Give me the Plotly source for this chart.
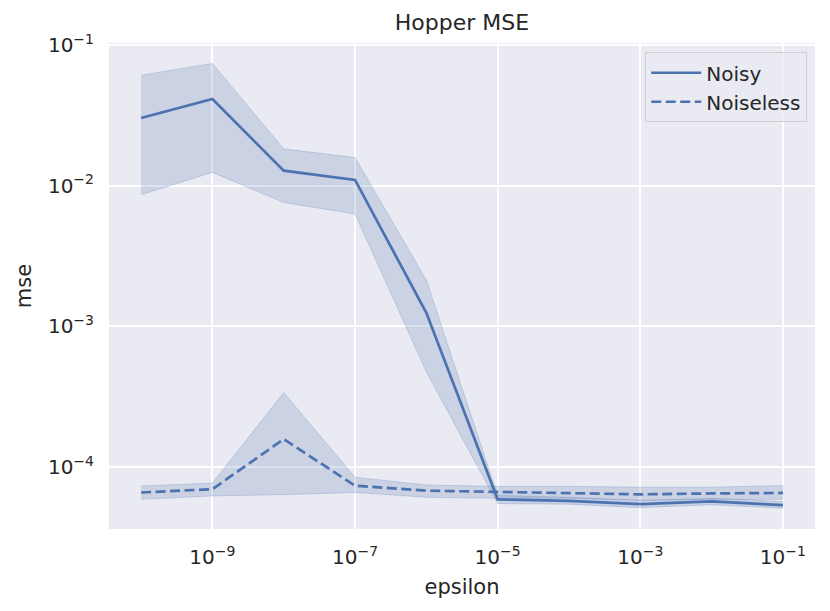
import plotly.graph_objects as go

# epsilon values (x) and mse estimates
eps = [1e-10, 1e-9, 1e-8, 1e-7, 1e-6, 1e-5, 1e-4, 1e-3, 1e-2, 1e-1]

noisy_mean = [0.0303, 0.0414, 0.0128, 0.0110, 0.00125, 5.9e-5, 5.75e-5, 5.45e-5, 5.7e-5, 5.36e-5]
noisy_hi = [0.061, 0.0741, 0.0183, 0.0159, 0.00214, 6.3e-5, 6.1e-5, 5.8e-5, 6.0e-5, 5.7e-5]
noisy_lo = [0.00863, 0.01245, 0.0076, 0.0063, 0.000475, 5.5e-5, 5.45e-5, 5.15e-5, 5.4e-5, 5.1e-5]

clean_mean = [6.6e-5, 6.97e-5, 1.58e-4, 7.38e-5, 6.8e-5, 6.67e-5, 6.6e-5, 6.4e-5, 6.5e-5, 6.55e-5]
clean_hi = [7.35e-5, 7.7e-5, 3.39e-4, 8.47e-5, 7.46e-5, 7.3e-5, 7.3e-5, 7.2e-5, 7.2e-5, 7.4e-5]
clean_lo = [5.9e-5, 6.24e-5, 6.37e-5, 6.6e-5, 6.1e-5, 6.0e-5, 6.0e-5, 5.8e-5, 5.9e-5, 5.9e-5]

x_ticks = [1e-9, 1e-7, 1e-5, 1e-3, 1e-1]
x_labels = ["10<sup>\u22129</sup>", "10<sup>\u22127</sup>", "10<sup>\u22125</sup>",
            "10<sup>\u22123</sup>", "10<sup>\u22121</sup>"]
y_ticks = [1e-4, 1e-3, 1e-2, 1e-1]
y_labels = ["10<sup>\u22124</sup>", "10<sup>\u22123</sup>", "10<sup>\u22122</sup>",
            "10<sup>\u22121</sup>"]

BLUE = "#4c72b0"
BAND = "rgba(76,114,176,0.2)"
EDGE = "rgba(76,114,176,0.22)"
FONT = "DejaVu Sans"
TXT = "#262626"

fig = go.Figure()


def add_series(name, mean, lo, hi, dash):
    # confidence band as a closed polygon
    fig.add_trace(go.Scatter(
        x=eps + eps[::-1], y=hi + lo[::-1],
        fill="toself", fillcolor=BAND,
        line=dict(color=EDGE, width=1),
        mode="lines", hoverinfo="skip", showlegend=False,
    ))
    fig.add_trace(go.Scatter(
        x=eps, y=mean, name=name, mode="lines",
        line=dict(color=BLUE, width=2.7, dash=dash),
    ))


add_series("Noisy", noisy_mean, noisy_lo, noisy_hi, "solid")
add_series("Noiseless", clean_mean, clean_lo, clean_hi, "10px,4.5px")

# page body adds an 8px margin, so the figure is sized to fit inside the window
W, H = 822, 603
fig.update_layout(
    width=W, height=H,
    margin=dict(l=101, r=15, t=35, b=82),
    paper_bgcolor="white",
    plot_bgcolor="#eaeaf2",
    font=dict(family=FONT, color=TXT, size=20),
    title=dict(text="Hopper MSE", x=0.5, xref="paper", xanchor="center",
               y=1 - 14.5 / H, yref="container", yanchor="middle",
               font=dict(size=22, color=TXT)),
    legend=dict(
        x=0.989, y=0.981, xanchor="right", yanchor="top",
        bgcolor="rgba(234,234,242,0.8)", bordercolor="#cfcfcf", borderwidth=1,
        font=dict(size=20, color=TXT), tracegroupgap=0, itemwidth=50,
    ),
    showlegend=True,
)

fig.update_xaxes(
    type="log", range=[-10.45, -0.55],
    tickvals=x_ticks, ticktext=x_labels,
    showgrid=True, gridcolor="white", gridwidth=1.8,
    zeroline=False, showline=False, ticks="", automargin=False,
    ticklabelstandoff=14,
    title=dict(text="epsilon", font=dict(size=21, color=TXT), standoff=11),
)
fig.update_yaxes(
    type="log", range=[-4.44, -0.985],
    tickvals=y_ticks, ticktext=y_labels,
    showgrid=True, gridcolor="white", gridwidth=1.8,
    zeroline=False, showline=False, ticks="", automargin=False,
    ticklabelstandoff=14,
    title=dict(text="mse", font=dict(size=21, color=TXT), standoff=10),
)

fig.write_html("out.html")
